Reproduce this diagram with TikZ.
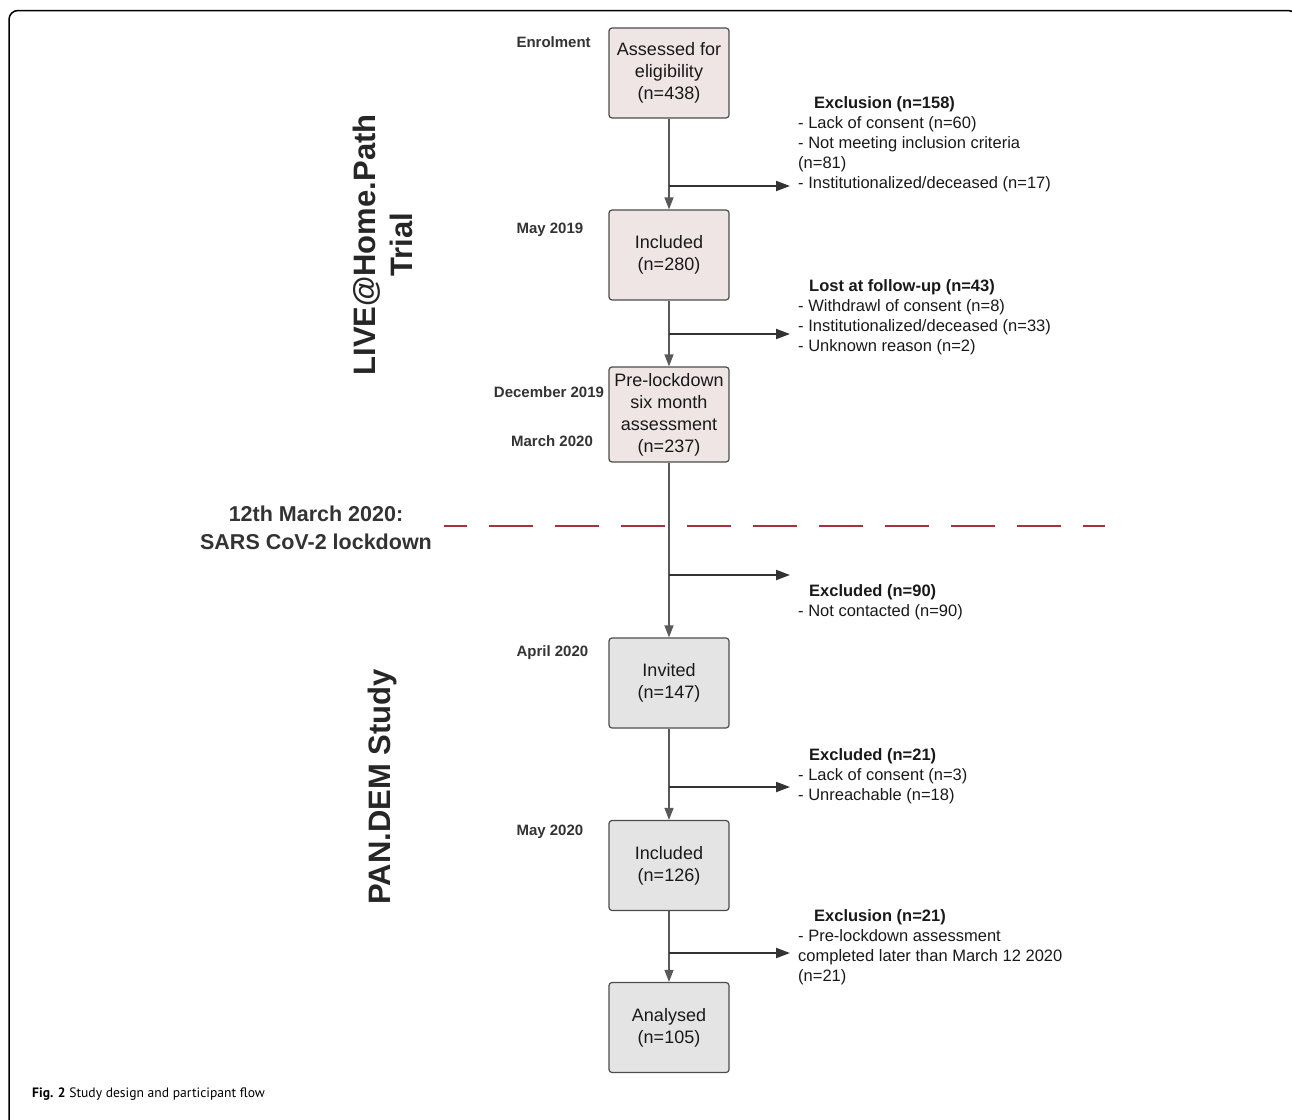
\documentclass[tikz,border=0pt]{standalone}
\usepackage{fontspec}
\setmainfont{Liberation Sans}
\newfontfamily\captionfont{PT Sans}
\usetikzlibrary{arrows.meta}
\definecolor{trialfill}{HTML}{EFE5E5}
\definecolor{studyfill}{HTML}{E4E4E4}
\definecolor{lockred}{HTML}{A8303F}
\begin{document}
\begin{tikzpicture}[x=1pt,y=-1pt]
  \tikzstyle{box}=[draw=black!70, line width=1.2pt, rounded corners=3pt, minimum width=120pt, minimum height=90pt, align=center, text=black!90, font=\fontsize{18}{22}\selectfont]
  \tikzstyle{trial}=[box, fill=trialfill]
  \tikzstyle{study}=[box, fill=studyfill]
  \tikzstyle{date}=[text=black!80, font=\bfseries\fontsize{15}{18}\selectfont]
  \tikzstyle{note}=[anchor=north west, inner sep=0pt, align=left, text=black!90, font=\fontsize{16.5}{20}\selectfont]
  \tikzstyle{phase}=[rotate=90, align=center, text=black!85, font=\bfseries\fontsize{31}{37}\selectfont]
  \tikzstyle{flow}=[draw=black!65, line width=1.2pt, -{Triangle[length=12pt,width=9pt]}]
  \tikzstyle{branch}=[draw=black!80, line width=2pt, -{Triangle[length=14pt,width=10pt]}]
  \useasboundingbox (0,0) rectangle (1292,1119);
  \draw[line width=1.5pt, rounded corners=9pt] (9,1130) -- (9,10.5) -- (1297,10.5) -- (1297,1130);

  \node[trial] (assess) at (669,73) {Assessed for\\eligibility\\(n=438)};
  \node[trial] (incl1) at (669,255) {Included\\(n=280)};
  \node[trial, minimum height=95pt] (prelock) at (669,414.5) {Pre-lockdown\\six month\\assessment\\(n=237)};
  \node[study] (invited) at (669,683) {Invited\\(n=147)};
  \node[study] (incl2) at (669,865.5) {Included\\(n=126)};
  \node[study] (analysed) at (669,1027.5) {Analysed\\(n=105)};

  \node[date, anchor=west] (enrol) at (513,42) {Enrolment};
  \node[date, anchor=west] (may19) at (513,230) {May 2019};
  \node[date] (dec19) at (549,392) {December 2019};
  \node[date] (mar20) at (552,441) {March 2020};
  \node[date, anchor=west] (apr20) at (513,653) {April 2020};
  \node[date, anchor=west] (may20) at (513,832) {May 2020};

  \node[phase] (trial) at (383,245) {LIVE@Home.Path\\Trial};
  \node[phase] (study) at (382,787) {PAN.DEM Study};
  \node[align=center, text=black!80, font=\bfseries\fontsize{21.5}{28}\selectfont] (lockdown) at (316,528) {12th March 2020:\\SARS CoV-2 lockdown};
  \coordinate (lockstart) at (444,526);
  \coordinate (lockend) at (1105,526);
  \draw[lockred, line width=2.5pt, dash pattern=on 44pt off 22pt, dash phase=21pt] (lockstart) -- (lockend);

  \node[note] (excl1) at (798,96) {\hspace*{16pt}\textbf{Exclusion (n=158)}\\- Lack of consent (n=60)\\- Not meeting inclusion criteria\\(n=81)\\- Institutionalized/deceased (n=17)};
  \node[note] (lost) at (798,279) {\hspace*{11pt}\textbf{Lost at follow-up (n=43)}\\- Withdrawl of consent (n=8)\\- Institutionalized/deceased (n=33)\\- Unknown reason (n=2)};
  \node[note] (excl2) at (798,584) {\hspace*{11pt}\textbf{Excluded (n=90)}\\- Not contacted (n=90)};
  \node[note] (excl3) at (798,748) {\hspace*{11pt}\textbf{Excluded (n=21)}\\- Lack of consent (n=3)\\- Unreachable (n=18)};
  \node[note] (excl4) at (798,909) {\hspace*{16pt}\textbf{Exclusion (n=21)}\\- Pre-lockdown assessment\\completed later than March 12 2020\\(n=21)};

  \draw[flow] (assess) -- (incl1);
  \draw[flow] (incl1) -- (prelock);
  \draw[flow] (prelock) -- (invited);
  \draw[flow] (invited) -- (incl2);
  \draw[flow] (incl2) -- (analysed);

  \coordinate (b1) at (669,186); \coordinate (e1) at (790,186);
  \coordinate (b2) at (669,334); \coordinate (e2) at (790,334);
  \coordinate (b3) at (669,575); \coordinate (e3) at (790,575);
  \coordinate (b4) at (669,787); \coordinate (e4) at (790,787);
  \coordinate (b5) at (669,953); \coordinate (e5) at (790,953);
  \draw[branch] (b1) -- (e1);
  \draw[branch] (b2) -- (e2);
  \draw[branch] (b3) -- (e3);
  \draw[branch] (b4) -- (e4);
  \draw[branch] (b5) -- (e5);

  \node[anchor=base west, inner sep=0pt, font=\captionfont\fontsize{13.6}{16}\selectfont] (caption) at (32,1097) {\textbf{Fig. 2} Study design and participant flow};
\end{tikzpicture}
\end{document}
